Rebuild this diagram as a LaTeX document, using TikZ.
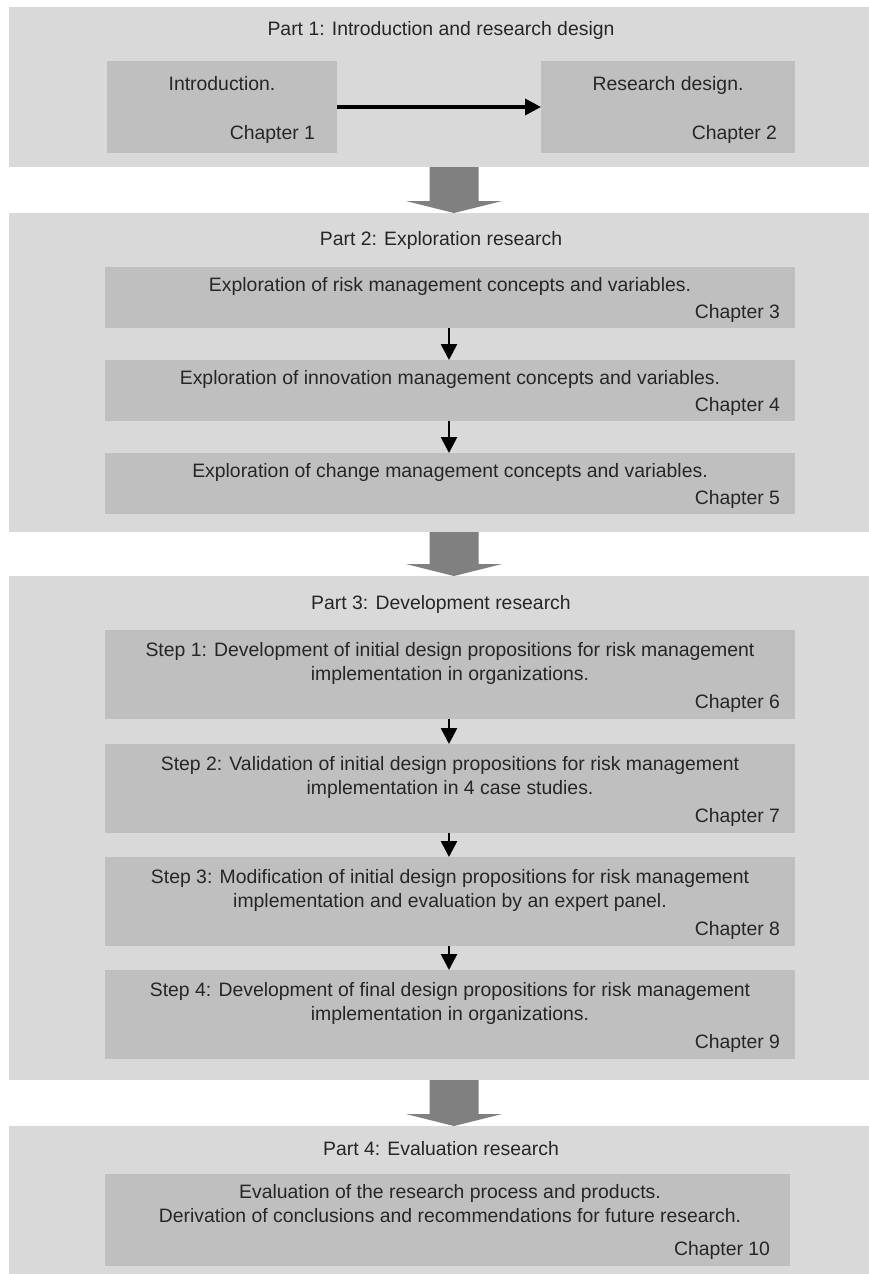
\documentclass[tikz,border=0pt]{standalone}
\usepackage{fontspec}
\setmainfont{Liberation Sans}
\usetikzlibrary{arrows.meta,calc}
\definecolor{panelgray}{HTML}{D9D9D9}
\definecolor{boxgray}{HTML}{BFBFBF}
\definecolor{arrowgray}{HTML}{808080}
\definecolor{txtcol}{HTML}{262626}
\newcommand{\panelarrow}[2]{\fill[bigfill] let \p1=(#1), \p2=(#2) in
  (\x1-24.5pt,\y1) -- (\x1+24.5pt,\y1) -- (\x1+24.5pt,\y2+12pt) -- (\x1+48pt,\y2+12pt)
  -- (\x2,\y2) -- (\x1-48pt,\y2+12pt) -- (\x1-24.5pt,\y2+12pt) -- cycle;}
\begin{document}
\begin{tikzpicture}[x=1pt,y=-1pt,
  panel/.style={fill=panelgray,draw=none,inner sep=0pt,outer sep=0pt,anchor=north west,minimum width=860pt},
  box/.style={fill=boxgray,draw=none,inner sep=0pt,outer sep=0pt,anchor=north west},
  lbl/.style={text=txtcol,font=\fontsize{19.4}{24}\selectfont,inner sep=0pt,outer sep=0pt},
  title/.style={lbl,anchor=base},
  main/.style={lbl,anchor=base,align=center},
  chap/.style={lbl,anchor=base east},
  harrow/.style={draw=black,line width=3.5pt,-{Triangle[length=16pt,width=16pt]}},
  varrow/.style={draw=black,line width=2.7pt,-{Triangle[length=16pt,width=16pt]}},
  bigfill/.style={fill=arrowgray}]
\useasboundingbox (0,0) rectangle (869,1274);
\coordinate (ax) at (454,0);
\coordinate (sx) at (449,0);

% Part 1
\node[panel,minimum height=160pt] (p1) at (9,7) {};
\node[title] (t1) at (441,35) {Part 1: Introduction and research design};
\node[box,minimum width=230pt,minimum height=92pt] (b1) at (107,61) {};
\node[box,minimum width=254pt,minimum height=92pt] (b2) at (541,61) {};
\node[main] (b1t) at (222,90) {Introduction.};
\node[chap] (b1c) at (315,139) {Chapter 1};
\node[main] (b2t) at (668,90) {Research design.};
\node[chap] (b2c) at (777,139) {Chapter 2};
\draw[harrow] (b1.east) -- (b2.west);

% Part 2
\node[panel,minimum height=319pt] (p2) at (9,213) {};
\node[title] (t2) at (441,245) {Part 2: Exploration research};
\node[box,minimum width=690pt,minimum height=61pt] (b3) at (105,267) {};
\node[box,minimum width=690pt,minimum height=61pt] (b4) at (105,360) {};
\node[box,minimum width=690pt,minimum height=61pt] (b5) at (105,453) {};
\node[main] (b3t) at (450,291) {Exploration of risk management concepts and variables.};
\node[chap] (b3c) at (780,318) {Chapter 3};
\node[main] (b4t) at (450,384) {Exploration of innovation management concepts and variables.};
\node[chap] (b4c) at (780,411) {Chapter 4};
\node[main] (b5t) at (450,477) {Exploration of change management concepts and variables.};
\node[chap] (b5c) at (780,504) {Chapter 5};
\draw[varrow] (b3.south -| sx) -- (b4.north -| sx);
\draw[varrow] (b4.south -| sx) -- (b5.north -| sx);

% Part 3
\node[panel,minimum height=504pt] (p3) at (9,576) {};
\node[title] (t3) at (441,609) {Part 3: Development research};
\node[box,minimum width=690pt,minimum height=89pt] (b6) at (105,630) {};
\node[box,minimum width=690pt,minimum height=89pt] (b7) at (105,744) {};
\node[box,minimum width=690pt,minimum height=89pt] (b8) at (105,857) {};
\node[box,minimum width=690pt,minimum height=89pt] (b9) at (105,970) {};
\node[main] (b6t) at (450,680) {Step 1: Development of initial design propositions for risk management\\implementation in organizations.};
\node[chap] (b6c) at (780,708) {Chapter 6};
\node[main] (b7t) at (450,794) {Step 2: Validation of initial design propositions for risk management\\implementation in 4 case studies.};
\node[chap] (b7c) at (780,822) {Chapter 7};
\node[main] (b8t) at (450,907) {Step 3: Modification of initial design propositions for risk management\\implementation and evaluation by an expert panel.};
\node[chap] (b8c) at (780,935) {Chapter 8};
\node[main] (b9t) at (450,1020) {Step 4: Development of final design propositions for risk management\\implementation in organizations.};
\node[chap] (b9c) at (780,1048) {Chapter 9};
\draw[varrow] (b6.south -| sx) -- (b7.north -| sx);
\draw[varrow] (b7.south -| sx) -- (b8.north -| sx);
\draw[varrow] (b8.south -| sx) -- (b9.north -| sx);

% Part 4
\node[panel,minimum height=148pt] (p4) at (9,1126) {};
\node[title] (t4) at (441,1155) {Part 4: Evaluation research};
\node[box,minimum width=685pt,minimum height=92pt] (b10) at (105,1174) {};
\node[main] (b10t) at (450,1222) {Evaluation of the research process and products.\\Derivation of conclusions and recommendations for future research.};
\node[chap] (b10c) at (770,1255) {Chapter 10};

% panel arrows
\panelarrow{p1.south -| ax}{p2.north -| ax}
\panelarrow{p2.south -| ax}{p3.north -| ax}
\panelarrow{p3.south -| ax}{p4.north -| ax}
\end{tikzpicture}
\end{document}
